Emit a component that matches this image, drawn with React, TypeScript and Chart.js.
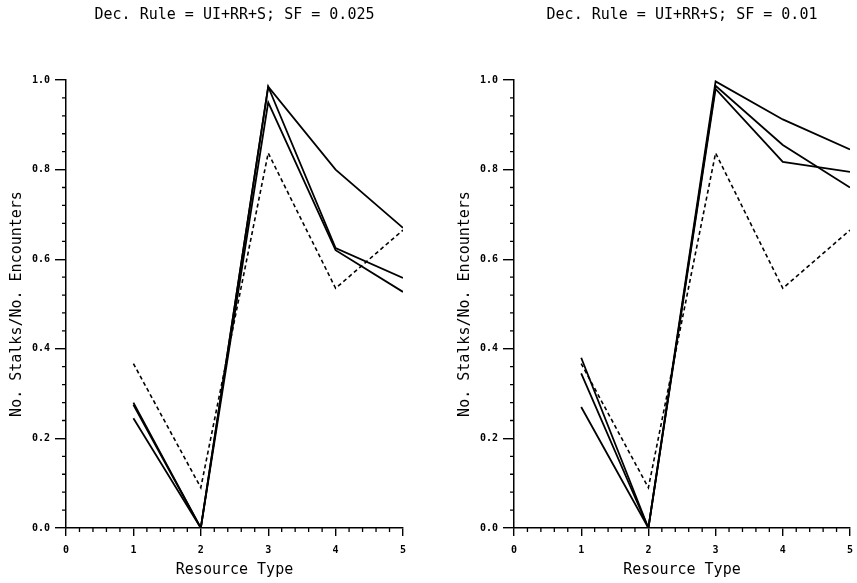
import React, { useEffect, useRef } from "react";
import { Chart, registerables } from "chart.js";

Chart.register(...registerables);

// ---------- data ----------
const resourceTypes = [1, 2, 3, 4, 5];
const xAxisMin = 0;
const xAxisMax = 5;
const yAxisMin = 0;
const yAxisMax = 1;

const leftTitle = "Dec. Rule = UI+RR+S; SF = 0.025";
const rightTitle = "Dec. Rule = UI+RR+S; SF = 0.01";
const xTitle = "Resource Type";
const yTitle = "No. Stalks/No. Encounters";

// SF = 0.025 panel
const leftSeriesA = [0.28, 0.0, 0.985, 0.8, 0.67];
const leftSeriesB = [0.275, 0.0, 0.985, 0.625, 0.558];
const leftSeriesC = [0.245, 0.0, 0.95, 0.62, 0.527];
const leftObserved = [0.367, 0.09, 0.837, 0.535, 0.665];

// SF = 0.01 panel
const rightSeriesA = [0.38, 0.0, 0.997, 0.912, 0.845];
const rightSeriesB = [0.345, 0.0, 0.987, 0.855, 0.76];
const rightSeriesC = [0.27, 0.0, 0.98, 0.817, 0.795];
const rightObserved = [0.367, 0.09, 0.837, 0.535, 0.665];

const FONT = "'DejaVu Sans Mono', 'Liberation Mono', monospace";

const minorTicks = {
  id: "minorTicks",
  afterDraw(chart: any) {
    const { ctx } = chart;
    const x = chart.scales.x;
    const y = chart.scales.y;
    ctx.save();
    ctx.strokeStyle = "#000";
    ctx.lineWidth = 1.3;
    ctx.beginPath();
    for (let i = 0; i <= 25; i++) {
      if (i % 5 === 0) continue;
      const px = x.getPixelForValue(i * 0.2);
      ctx.moveTo(px, y.bottom);
      ctx.lineTo(px, y.bottom + 4);
    }
    for (let i = 0; i <= 25; i++) {
      if (i % 5 === 0) continue;
      const py = y.getPixelForValue(i * 0.04);
      ctx.moveTo(x.left, py);
      ctx.lineTo(x.left - 4, py);
    }
    ctx.stroke();
    ctx.restore();
  },
};

function toPoints(vals: number[]) {
  return vals.map((v, i) => ({ x: resourceTypes[i], y: v }));
}

function Panel(props: {
  title: string;
  series: number[][];
  observed: number[];
  left: number;
  width: number;
  padRight: number;
}) {
  const ref = useRef<HTMLCanvasElement | null>(null);
  useEffect(() => {
    if (!ref.current) return;
    const solid = props.series.map((s) => ({
      data: toPoints(s),
      borderColor: "#000",
      borderWidth: 1.8,
      pointRadius: 0,
      tension: 0,
      fill: false,
    }));
    const dashed = {
      data: toPoints(props.observed),
      borderColor: "#000",
      borderWidth: 1.6,
      borderDash: [4, 3],
      pointRadius: 0,
      tension: 0,
      fill: false,
    };
    const chart = new Chart(ref.current, {
      type: "line",
      data: { datasets: [...solid, dashed] as any },
      plugins: [minorTicks],
      options: {
        animation: false,
        responsive: false,
        layout: { padding: { left: 0, right: props.padRight, top: 0, bottom: 0 } },
        plugins: {
          legend: { display: false },
          tooltip: { enabled: false },
          title: {
            display: true,
            text: props.title,
            fullSize: false,
            color: "#000",
            font: { family: FONT, size: 15, weight: "normal" },
            padding: { top: 6, bottom: 56 },
          },
        },
        scales: {
          x: {
            type: "linear",
            min: xAxisMin,
            max: xAxisMax,
            afterFit: (s: any) => {
              s.height = 55;
            },
            ticks: {
              stepSize: 1,
              color: "#000",
              padding: 8,
              font: { family: FONT, size: 10, weight: "bold" },
              callback: (v: any) => String(v),
            },
            grid: {
              drawOnChartArea: false,
              drawTicks: true,
              tickLength: 8,
              color: "#000",
              lineWidth: 1.4,
            },
            border: { display: true, color: "#000", width: 1.5 },
            title: {
              display: true,
              text: xTitle,
              color: "#000",
              font: { family: FONT, size: 15, weight: "normal" },
              padding: { top: 0, bottom: 4 },
            },
          },
          y: {
            type: "linear",
            min: yAxisMin,
            max: yAxisMax,
            afterFit: (s: any) => {
              s.width = 66;
            },
            ticks: {
              stepSize: 0.2,
              color: "#000",
              padding: 5,
              font: { family: FONT, size: 10, weight: "bold" },
              callback: (v: any) => Number(v).toFixed(1),
            },
            grid: {
              drawOnChartArea: false,
              drawTicks: true,
              tickLength: 11,
              color: "#000",
              lineWidth: 1.4,
            },
            border: { display: true, color: "#000", width: 1.5 },
            title: {
              display: true,
              text: yTitle,
              color: "#000",
              font: { family: FONT, size: 15, weight: "normal" },
              padding: { top: 8, bottom: 0 },
            },
          },
        },
      } as any,
    });
    return () => chart.destroy();
  }, []);
  return (
    <canvas
      ref={ref}
      width={props.width}
      height={583}
      style={{ position: "absolute", left: props.left, top: 0, width: props.width, height: 583 }}
    />
  );
}

export default function App() {
  return (
    <div
      style={{
        position: "fixed",
        left: 0,
        top: 0,
        width: 857,
        height: 583,
        background: "#fff",
        overflow: "hidden",
      }}
    >
      <Panel
        title={leftTitle}
        series={[leftSeriesA, leftSeriesB, leftSeriesC]}
        observed={leftObserved}
        left={0}
        width={430}
        padRight={27}
      />
      <Panel
        title={rightTitle}
        series={[rightSeriesA, rightSeriesB, rightSeriesC]}
        observed={rightObserved}
        left={448}
        width={420}
        padRight={18}
      />
    </div>
  );
}
